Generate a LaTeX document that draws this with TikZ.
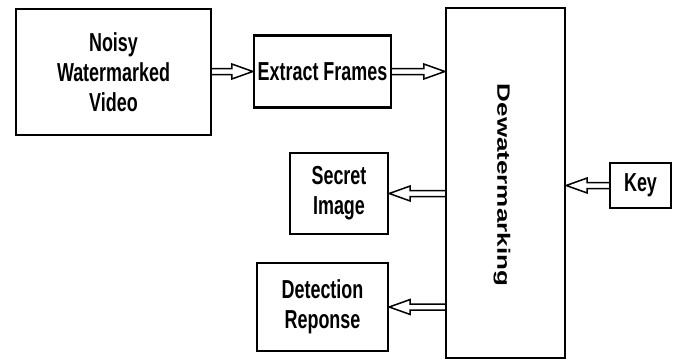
\documentclass[tikz,border=0pt]{standalone}
\usepackage{fontspec}
\usepackage{graphicx}
\setmainfont{Liberation Sans}[FakeStretch=0.69]
\newfontfamily\rotfont{Liberation Sans}
\usetikzlibrary{calc}
\tikzset{
  box/.style={draw=black, line width=2.4pt, fill=white, inner sep=0pt, align=center,
    font=\fontsize{26}{30}\selectfont\bfseries},
  hollow/.style={draw=black, line width=1.5pt, line join=miter,
    to path={let \p1=(\tikztostart), \p2=(\tikztotarget),
      \p3=($(\tikztotarget)!21pt!(\tikztostart)$) in
      (\x1,\y1+3pt) -- (\x3,\y1+3pt) -- (\x3,\y1+7.5pt) -- (\x2,\y1)
      -- (\x3,\y1-7.5pt) -- (\x3,\y1-3pt) -- (\x1,\y1-3pt)}}
}
\begin{document}
\begin{tikzpicture}[x=1pt,y=-1pt]
\useasboundingbox (0,0) rectangle (674,362);
\node[box, minimum width=195pt, minimum height=126pt] (noisy) at (113.5,72) {Noisy\\Watermarked\\Video};
\node[box, minimum width=137pt, minimum height=72pt] (extract) at (322.5,71.5) {Extract Frames};
\node[box, minimum width=119pt, minimum height=350pt] (dew) at (505.5,183) {};
\node[font=\fontsize{26}{30}\selectfont\bfseries\rotfont, inner sep=0pt] (dewtxt) at (502,185)
  {\rotatebox{-90}{\scalebox{1}[0.69]{Dewatermarking}}};
\node[box, minimum width=61pt, minimum height=45pt] (key) at (640.5,185.5) {Key};
\node[box, minimum width=98pt, minimum height=81pt] (secret) at (339,193.5) {Secret\\Image};
\node[box, minimum width=131pt, minimum height=88pt] (detect) at (322.5,307) {Detection\\Reponse};
\draw[hollow] (noisy.east |- extract.west) to (extract.west);
\draw[hollow] (extract.east) to (dew.west |- extract.east);
\draw[hollow] (dew.west |- secret.east) to (secret.east);
\draw[hollow] (dew.west |- detect.east) to (detect.east);
\draw[hollow] (key.west) to (dew.east |- key.west);
\end{tikzpicture}
\end{document}
